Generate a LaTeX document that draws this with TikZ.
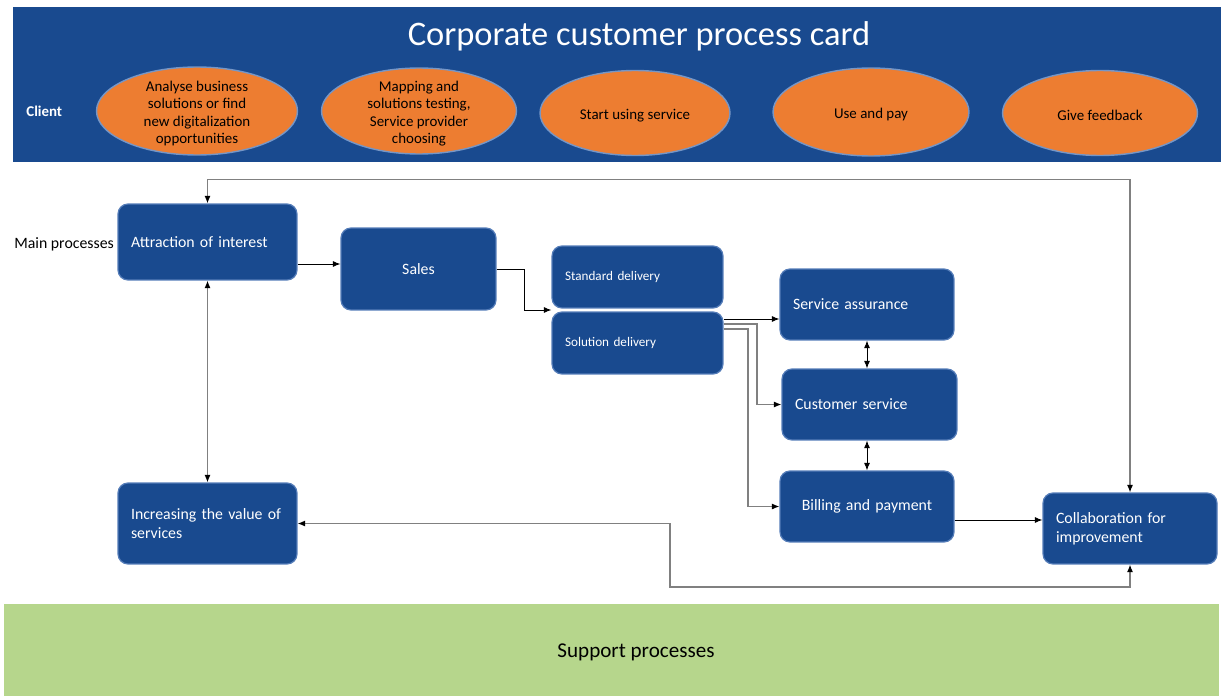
\documentclass[tikz,border=0pt]{standalone}
\usepackage{fontspec}
\setmainfont{Carlito}
\usetikzlibrary{shapes.geometric,arrows.meta,calc}
\definecolor{cardblue}{RGB}{25,74,143}
\definecolor{boxedge}{RGB}{84,124,184}
\definecolor{clientorange}{RGB}{237,125,49}
\definecolor{supportgreen}{RGB}{182,214,140}
\definecolor{linegray}{RGB}{128,128,128}

\begin{document}
\begin{tikzpicture}[x=0.02cm,y=-0.02cm,
  >={Latex[length=1.5mm,width=1.2mm,color=black]},
  proc/.style={draw=boxedge,line width=0.7pt,fill=cardblue,rounded corners=0.2cm,
    text=white,inner xsep=0.26cm,inner ysep=0pt,align=left,
    font=\fontsize{9}{11}\selectfont},
  client/.style={ellipse,draw=boxedge!80,line width=0.8pt,fill=clientorange,inner sep=0pt},
  clienttext/.style={align=center,yshift=-0.05cm,font=\fontsize{8.5}{10}\selectfont},
  link/.style={->,line width=0.5pt},
  glink/.style={link,draw=linegray,line width=0.65pt}]
\useasboundingbox (0,0) rectangle (1223,696);

% bands
\fill[cardblue] (13,7) rectangle (1221,162);
\fill[supportgreen] (4,604) rectangle (1219,696);
\node[text=white,anchor=base,font=\fontsize{19.6}{24}\selectfont] (title) at (639,46) {Corporate customer process card};
\node[text=white,anchor=west,inner sep=0pt,font=\fontsize{8.5}{10}\selectfont\bfseries] (client) at (26,111) {Client};
\node[font=\fontsize{12}{14}\selectfont] (support) at (636,652) {Support processes};
\node[anchor=west,inner sep=0pt,font=\fontsize{9}{11}\selectfont] (main) at (14,244) {Main processes};

% client steps
\node[client,minimum width=4.02cm,minimum height=1.76cm,
  label={[clienttext]center:Analyse business\\solutions or find\\new digitalization\\opportunities}] (analyse) at (197,111) {};
\node[client,minimum width=3.9cm,minimum height=1.72cm,
  label={[clienttext]center:Mapping and\\solutions testing,\\Service provider\\choosing}] (mapping) at (419,111) {};
\node[client,minimum width=3.8cm,minimum height=1.7cm,
  label={[clienttext]center:Start using service}] (start) at (635,113) {};
\node[client,minimum width=3.92cm,minimum height=1.76cm,
  label={[clienttext]center:Use and pay}] (usepay) at (871,112) {};
\node[client,minimum width=3.9cm,minimum height=1.7cm,
  label={[clienttext]center:Give feedback}] (feedback) at (1100,113) {};

% main processes
\node[proc,text width=3.06cm,minimum height=1.52cm] (attr) at (207.5,242) {Attraction of interest};
\node[proc,text width=2.58cm,minimum height=1.64cm,align=center] (sales) at (418.5,269) {Sales};
\node[proc,text width=2.9cm,minimum height=1.24cm,font=\fontsize{7.5}{9}\selectfont] (std) at (637.5,277) {Standard delivery};
\node[proc,text width=2.9cm,minimum height=1.24cm,font=\fontsize{7.5}{9}\selectfont] (sol) at (637.5,343) {Solution delivery};
\node[proc,text width=2.96cm,minimum height=1.42cm] (assure) at (867,304.5) {Service assurance};
\node[proc,text width=2.98cm,minimum height=1.42cm] (custserv) at (869.5,404.5) {Customer service};
\node[proc,text width=2.96cm,minimum height=1.42cm,align=center] (bill) at (867,506.5) {Billing and payment};
\node[proc,text width=2.96cm,minimum height=1.42cm] (collab) at (1130,528.5) {Collaboration for\\improvement};
\node[proc,text width=3.06cm,minimum height=1.62cm] (incr) at (207.5,523.5) {Increasing the value of\\services};

% connectors
\draw[glink,<->] (attr.north) -- ++(0,-24) -| (collab.north);
\draw[glink,<->] (attr) -- (incr);
\draw[link] (attr.east |- 0,264) -- (sales.west |- 0,264);
\draw[link] (sales.east) -| (524,310) -- ($(std.south west)!.5!(sol.north west)$);
\draw[link] (sol.east |- 0,319) -- (assure.west |- 0,319);
\draw[glink] (sol.east |- 0,324) -- (757,324) |- (custserv.west);
\draw[glink] (sol.east |- 0,329) -- (748,329) |- (bill.west);
\draw[link,<->] (assure.south) -- (assure.south |- custserv.north);
\draw[link,<->] (bill.north |- custserv.south) -- (bill.north);
\draw[link] (bill.east |- 0,520) -- (collab.west |- 0,520);
\draw[glink,<->] (incr.east) -| (670,587) -| (collab.south);
\end{tikzpicture}
\end{document}
